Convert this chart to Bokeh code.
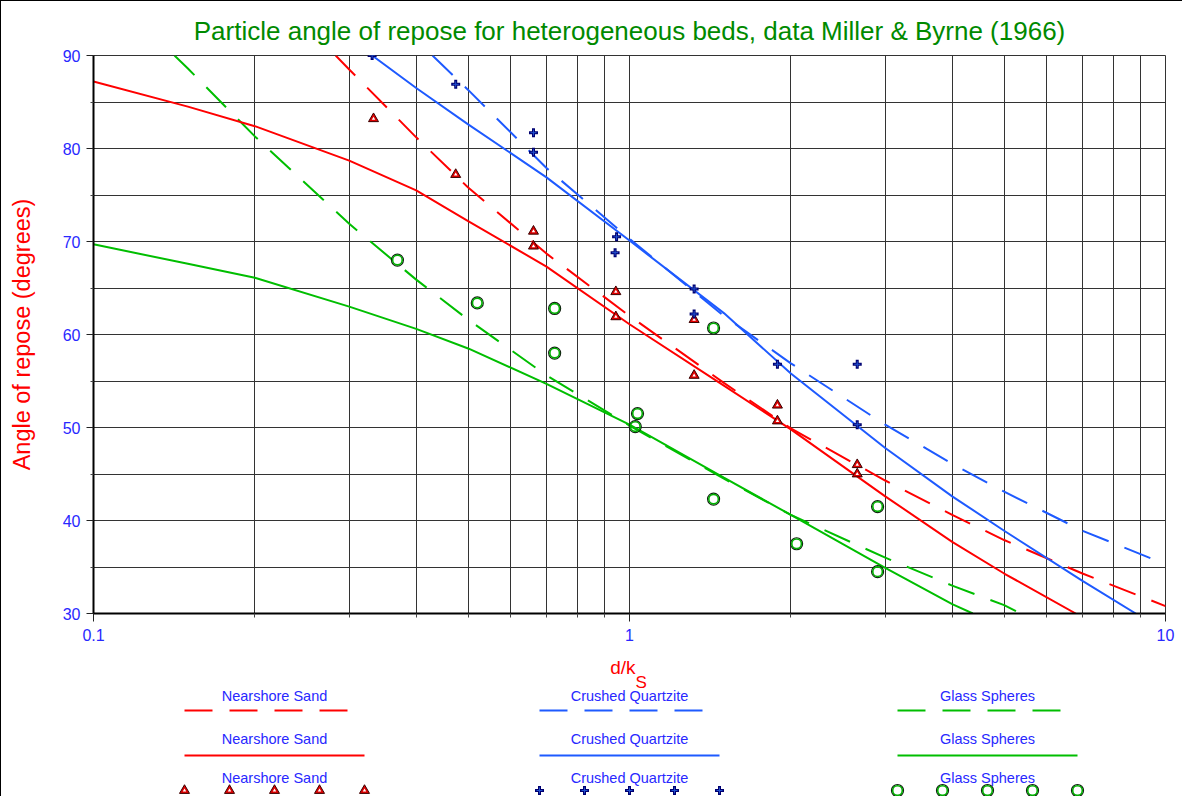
from bokeh.plotting import figure
from bokeh.models import FixedTicker, CustomJSTickFormatter, Range1d
from bokeh.layouts import column
from bokeh.embed import file_html
from bokeh.resources import INLINE
from bokeh.core.properties import value

# ---------------- data ----------------
TITLE = "Particle angle of repose for heterogeneous beds, data Miller & Byrne (1966)"
Y_LABEL = "Angle of repose (degrees)"
X_LABEL_MAIN = "d/k"
X_LABEL_SUB = "S"
SERIES = ["Nearshore Sand", "Crushed Quartzite", "Glass Spheres"]

x_ticks = [0.1, 1, 10]
x_minor = [0.2, 0.3, 0.4, 0.5, 0.6, 0.7, 0.8, 0.9, 2, 3, 4, 5, 6, 7, 8, 9]
y_ticks = [30, 40, 50, 60, 70, 80, 90]
y_minor = [35, 45, 55, 65, 75, 85]

# dashed curves
ns_dash_x = [0.283, 0.3, 0.4, 0.5, 0.7, 1.0, 1.5, 2.0, 3.0, 4.0, 5.0, 7.0, 10.0]
ns_dash_y = [90.0, 88.5, 81.2, 75.8, 68.7, 62.0, 54.8, 49.9, 44.3, 40.6, 37.9, 34.3, 30.8]
cq_dash_x = [0.429, 0.5, 0.7, 1.0, 1.5, 2.0, 3.0, 4.0, 5.0, 7.0, 10.0]
cq_dash_y = [90.0, 86.3, 77.9, 70.3, 62.0, 56.9, 50.3, 46.1, 43.1, 38.9, 35.3]
gs_dash_x = [0.1416, 0.15, 0.2, 0.3, 0.4, 0.5, 0.7, 1.0, 1.5, 2.0, 3.0, 4.0, 5.0, 5.36]
gs_dash_y = [90.0, 88.6, 81.3, 71.9, 65.9, 61.6, 55.6, 50.2, 44.5, 40.6, 36.0, 33.0, 30.9, 30.0]

# solid curves
ns_fit_x = [0.1, 0.15, 0.2, 0.3, 0.4, 0.5, 0.7, 1.0, 1.5, 2.0, 3.0, 4.0, 5.0, 6.8]
ns_fit_y = [87.2, 84.5, 82.4, 78.7, 75.5, 72.2, 67.3, 61.1, 54.5, 49.8, 42.6, 37.7, 34.3, 30.0]
cq_fit_x = [0.331, 0.4, 0.5, 0.7, 1.0, 1.5, 2.0, 3.0, 4.0, 5.0, 7.0, 8.8]
cq_fit_y = [90.0, 86.5, 82.6, 76.9, 70.1, 62.3, 55.8, 47.8, 42.6, 38.9, 33.5, 30.0]
gs_fit_x = [0.1, 0.15, 0.2, 0.3, 0.4, 0.5, 0.7, 1.0, 1.5, 2.0, 3.0, 4.0, 4.37]
gs_fit_y = [69.7, 67.6, 66.1, 63.0, 60.6, 58.5, 54.7, 50.3, 44.6, 40.6, 34.9, 31.0, 30.0]

# measured points
ns_x = [0.333, 0.474, 0.662, 0.662, 0.943, 0.943, 1.32, 1.32, 1.888, 1.888, 2.66, 2.66]
ns_y = [83.2, 77.2, 71.1, 69.5, 64.6, 61.9, 61.6, 55.6, 52.4, 50.7, 46.0, 45.0]
cq_x = [0.331, 0.474, 0.662, 0.662, 0.946, 0.94, 1.32, 1.32, 1.888, 2.66, 2.66]
cq_y = [90.0, 86.9, 81.7, 79.6, 70.5, 68.8, 64.9, 62.2, 56.8, 56.8, 50.3]
gs_x = [0.369, 0.52, 0.725, 0.725, 1.035, 1.025, 1.435, 1.435, 2.05, 2.903, 2.903]
gs_y = [68.0, 63.4, 62.8, 58.0, 51.5, 50.1, 60.7, 42.3, 37.5, 41.5, 34.5]

# ---------------- styles ----------------
RED = "#FF0000"
BLUE = "#1E5AFF"
GREEN = "#00BE00"
TXT_BLUE = "#2828FF"
FONT = "Liberation Sans"
GRID = "#333333"
DASH = "28 17"

W = 1181
BL, BR = 92, 17          # left / right borders of the plotting frame

# ---------------- main chart ----------------
p = figure(width=W, height=646, x_axis_type="log",
           x_range=Range1d(0.1, 10), y_range=Range1d(30, 90),
           output_backend="svg", toolbar_location=None,
           min_border_left=BL, min_border_right=BR,
           min_border_top=54, min_border_bottom=34)
p.background_fill_color = "white"
p.border_fill_color = "white"
p.outline_line_color = GRID
p.outline_line_width = 1

p.title.text = TITLE
p.title.align = "center"
p.title.text_font = FONT
p.title.text_font_size = "26px"
p.title.text_font_style = "normal"
p.title.text_color = "#008A00"
p.title.standoff = 20

p.xaxis.ticker = FixedTicker(ticks=x_ticks, minor_ticks=x_minor)
p.xaxis.formatter = CustomJSTickFormatter(code="return String(tick);")
p.yaxis.ticker = FixedTicker(ticks=y_ticks, minor_ticks=y_minor)

for ax in (p.xaxis[0], p.yaxis[0]):
    ax.axis_line_color = "black"
    ax.axis_line_width = 2
    ax.major_tick_line_color = "#222222"
    ax.minor_tick_line_color = "#444444"
    ax.major_tick_in = 0
    ax.minor_tick_in = 0
    ax.major_label_text_font = FONT
    ax.major_label_text_font_size = "16px"
    ax.major_label_text_color = TXT_BLUE

p.xaxis.major_tick_out = 8
p.xaxis.minor_tick_out = 4
p.xaxis.major_label_standoff = 7
p.yaxis.major_tick_out = 7
p.yaxis.minor_tick_out = 3
p.yaxis.major_label_standoff = 6

p.yaxis.axis_label = Y_LABEL
p.yaxis.axis_label_text_font = FONT
p.yaxis.axis_label_text_font_size = "23.5px"
p.yaxis.axis_label_text_font_style = "normal"
p.yaxis.axis_label_text_color = RED
p.yaxis.axis_label_standoff = 25

for g in (p.xgrid[0], p.ygrid[0]):
    g.grid_line_color = GRID
    g.grid_line_width = 1
    g.minor_grid_line_color = GRID
    g.minor_grid_line_width = 1

# curves
p.line(ns_dash_x, ns_dash_y, line_color=RED, line_width=2, line_dash=DASH)
p.line(cq_dash_x, cq_dash_y, line_color=BLUE, line_width=2, line_dash=DASH)
p.line(gs_dash_x, gs_dash_y, line_color=GREEN, line_width=2, line_dash=DASH)
p.line(ns_fit_x, ns_fit_y, line_color=RED, line_width=2)
p.line(cq_fit_x, cq_fit_y, line_color=BLUE, line_width=2)
p.line(gs_fit_x, gs_fit_y, line_color=GREEN, line_width=2)


def draw_markers(fig, kind, xs, ys):
    if kind == 0:
        fig.scatter(xs, ys, marker="triangle", size=10, fill_color="#E00000",
                    line_color="#3a0000", line_width=1)
        fig.scatter(xs, ys, marker="triangle", size=3.5, fill_color="white",
                    line_color=None)
    elif kind == 1:
        fig.scatter(xs, ys, marker="cross", size=9, line_color="#000070", line_width=3)
        fig.scatter(xs, ys, marker="cross", size=6, line_color="#2050D0", line_width=1)
    else:
        fig.scatter(xs, ys, marker="circle", size=12, fill_color=None,
                    line_color="#102010", line_width=1.2)
        fig.scatter(xs, ys, marker="circle", size=9.6, fill_color=None,
                    line_color="#00B000", line_width=1.6)


draw_markers(p, 0, ns_x, ns_y)
draw_markers(p, 1, cq_x, cq_y)
draw_markers(p, 2, gs_x, gs_y)

# ---------------- axis title + legend panel ----------------
# this panel's frame is aligned with the chart frame by the column layout,
# so its x range is expressed in pixel columns of the whole figure.
LH = 149
leg = figure(width=W, height=LH, x_range=Range1d(BL, W - BR), y_range=Range1d(LH, 0),
             output_backend="svg", toolbar_location=None,
             min_border_left=BL, min_border_right=BR,
             min_border_top=0, min_border_bottom=0,
             x_axis_location=None, y_axis_location=None)
leg.grid.visible = False
leg.outline_line_color = None
leg.background_fill_color = "white"
leg.border_fill_color = "white"

leg.text(x=[634], y=[20], text=[X_LABEL_MAIN], text_font=value(FONT),
         text_font_size="19px", text_color=RED, text_align="right",
         text_baseline="alphabetic")
leg.text(x=[634], y=[35], text=[X_LABEL_SUB], text_font=value(FONT),
         text_font_size="17px", text_color=RED, text_align="left",
         text_baseline="alphabetic")

col_left = [183, 538, 896]
col_colors = [RED, BLUE, GREEN]
span = 180
label_rows = [48, 91, 130]
line_rows = [63, 108]
marker_row = 143
for i, name in enumerate(SERIES):
    x0 = col_left[i]
    xc = x0 + span / 2
    leg.text(x=[xc] * 3, y=label_rows, text=[name] * 3, text_font=value(FONT),
             text_font_size="14.5px", text_color=TXT_BLUE, text_align="center",
             text_baseline="alphabetic")
    leg.line([x0, x0 + span], [line_rows[0]] * 2, line_color=col_colors[i],
             line_width=2, line_dash=DASH)
    leg.line([x0, x0 + span], [line_rows[1]] * 2, line_color=col_colors[i],
             line_width=2)
    mx = [x0 + k * span / 4 for k in range(5)]
    draw_markers(leg, i, mx, [marker_row] * 5)

layout = column(p, leg, spacing=0,
                styles={"border-left": "1px solid black", "border-top": "1px solid black"})

open("out.html", "w").write(file_html(layout, INLINE))
